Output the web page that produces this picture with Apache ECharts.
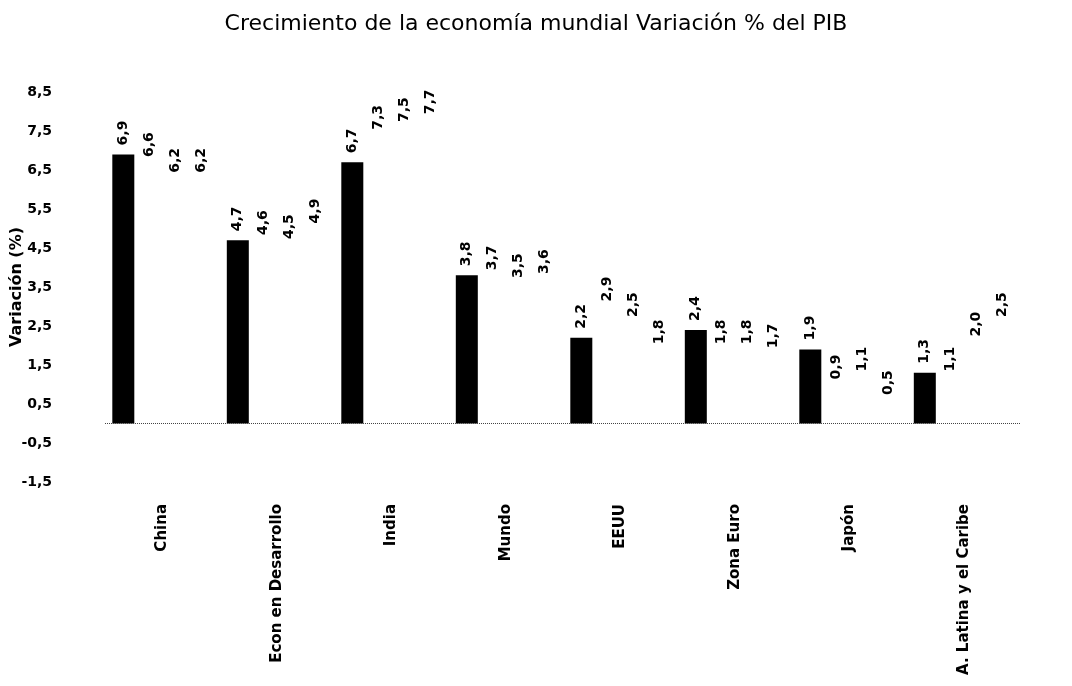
<!DOCTYPE html>
<html>
<head>
<meta charset="utf-8">
<script src="https://cdn.jsdelivr.net/npm/echarts@6/dist/echarts.min.js"></script>
<style>
  html, body { margin: 0; padding: 0; background: #fff; }
  #chart { width: 1072px; height: 686px; }
</style>
</head>
<body>
<div id="chart"></div>
<script>
// regions and the four growth values
var categories = ['China', 'Econ en Desarrollo', 'India', 'Mundo', 'EEUU', 'Zona Euro', 'Japón', 'A. Latina y el Caribe'];
var serie1 = [6.9, 4.7, 6.7, 3.8, 2.2, 2.4, 1.9, 1.3];
var serie2 = [6.6, 4.6, 7.3, 3.7, 2.9, 1.8, 0.9, 1.1];
var serie3 = [6.2, 4.5, 7.5, 3.5, 2.5, 1.8, 1.1, 2.0];
var serie4 = [6.2, 4.9, 7.7, 3.6, 1.8, 1.7, 0.5, 2.5];
var yMin = -1.5, yMax = 8.5, yStep = 1;

var chart = echarts.init(document.getElementById('chart'));

function comma(v) {
  return Number(v).toFixed(1).replace('.', ',');
}

var labelStyle = {
  show: true,
  position: 'top',
  rotate: 90,
  align: 'left',
  verticalAlign: 'middle',
  distance: 9,
  fontFamily: 'DejaVu Sans',
  fontWeight: 'bold',
  fontSize: 14,
  color: '#000',
  formatter: function (p) { return comma(p.value); }
};

// the light series are almost invisible in the scan
var faint = { color: '#ffffff' };

function makeSeries(name, data, style) {
  return {
    name: name,
    type: 'bar',
    data: data,
    barWidth: 22,
    barGap: '18%',
    itemStyle: style,
    label: labelStyle
  };
}

var series = [
  makeSeries('Serie 1', serie1, { color: '#000' }),
  makeSeries('Serie 2', serie2, faint),
  makeSeries('Serie 3', serie3, faint),
  makeSeries('Serie 4', serie4, faint)
];
// dotted base line under the bars
series[0].markLine = {
  silent: true,
  symbol: 'none',
  label: { show: false },
  lineStyle: { color: '#444', type: 'dotted', width: 1 },
  data: [{ yAxis: 0 }]
};

chart.setOption({
  animation: false,
  title: {
    text: 'Crecimiento de la economía mundial Variación % del PIB',
    left: 'center',
    top: 8,
    textStyle: {
      fontFamily: 'DejaVu Sans',
      fontWeight: 'normal',
      fontSize: 22,
      color: '#000'
    }
  },
  grid: {
    left: 105,
    right: 51,
    top: 92,
    bottom: 204,
    containLabel: false,
    outerBoundsMode: 'none'
  },
  xAxis: {
    type: 'category',
    data: categories,
    axisLine: { show: false, onZero: false },
    axisTick: { show: false },
    axisLabel: {
      interval: 0,
      rotate: 90,
      margin: 22,
      fontFamily: 'DejaVu Sans',
      fontWeight: 'bold',
      fontSize: 15,
      color: '#000'
    }
  },
  yAxis: {
    type: 'value',
    min: yMin,
    max: yMax,
    interval: yStep,
    name: 'Variación (%)',
    nameLocation: 'middle',
    nameGap: 80,
    nameMoveOverlap: false,
    nameTextStyle: {
      fontFamily: 'DejaVu Sans',
      fontWeight: 'bold',
      fontSize: 16,
      color: '#000'
    },
    axisLine: { show: false },
    axisTick: { show: false },
    splitLine: { show: false },
    axisLabel: {
      margin: 53,
      fontFamily: 'DejaVu Sans',
      fontWeight: 'bold',
      fontSize: 14,
      color: '#000',
      formatter: function (v) { return comma(v); }
    }
  },
  series: series
});
</script>
</body>
</html>
